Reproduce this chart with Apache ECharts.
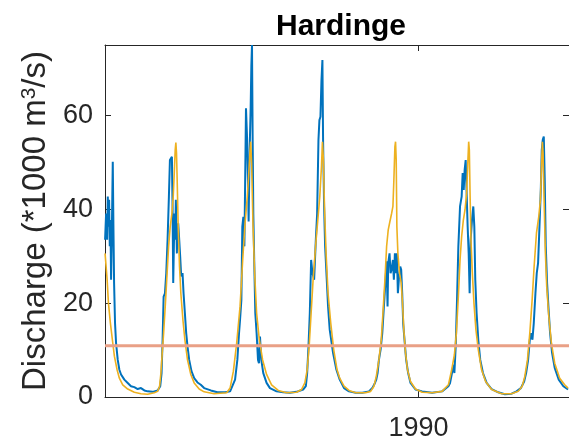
<!DOCTYPE html>
<html>
<head>
<meta charset="utf-8">
<script src="https://cdn.jsdelivr.net/npm/echarts@6/dist/echarts.min.js"></script>
<style>
  html, body { margin: 0; padding: 0; background: #ffffff; }
  #chart { width: 569px; height: 446px; }
</style>
</head>
<body>
<div id="chart"></div>
<script>
// Observed discharge at Hardinge (decimal year, *1000 m3/s)
const observedYear = [
  1985.723, 1985.737, 1985.751, 1985.760, 1985.769, 1985.778, 1985.787, 1985.796, 1985.805, 1985.814,
  1985.828, 1985.837, 1985.846, 1985.859, 1985.873, 1985.896, 1985.918, 1985.941, 1985.986, 1986.032,
  1986.077, 1986.122, 1986.168, 1986.213, 1986.259, 1986.304, 1986.372, 1986.440, 1986.476, 1986.494,
  1986.508, 1986.522, 1986.540, 1986.558, 1986.576, 1986.594, 1986.608, 1986.621, 1986.635, 1986.644,
  1986.653, 1986.662, 1986.671, 1986.680, 1986.689, 1986.703, 1986.712, 1986.721, 1986.735, 1986.748,
  1986.762, 1986.780, 1986.794, 1986.812, 1986.830, 1986.848, 1986.871, 1986.902, 1986.939, 1986.984,
  1987.029, 1987.075, 1987.166, 1987.256, 1987.361, 1987.429, 1987.451, 1987.497, 1987.528, 1987.551,
  1987.565, 1987.583, 1987.596, 1987.610, 1987.624, 1987.637, 1987.646, 1987.660, 1987.673, 1987.682,
  1987.696, 1987.710, 1987.719, 1987.728, 1987.737, 1987.746, 1987.760, 1987.773, 1987.791, 1987.810,
  1987.823, 1987.837, 1987.855, 1987.882, 1987.927, 1987.973, 1988.063, 1988.154, 1988.245, 1988.336,
  1988.426, 1988.463, 1988.481, 1988.499, 1988.517, 1988.535, 1988.553, 1988.576, 1988.599, 1988.617,
  1988.635, 1988.648, 1988.662, 1988.676, 1988.689, 1988.698, 1988.712, 1988.726, 1988.744, 1988.766,
  1988.789, 1988.834, 1988.880, 1988.925, 1988.984, 1989.052, 1989.143, 1989.234, 1989.324, 1989.370,
  1989.406, 1989.424, 1989.442, 1989.460, 1989.483, 1989.506, 1989.528, 1989.551, 1989.565, 1989.578,
  1989.587, 1989.605, 1989.619, 1989.633, 1989.651, 1989.664, 1989.678, 1989.692, 1989.705, 1989.719,
  1989.732, 1989.751, 1989.764, 1989.778, 1989.791, 1989.809, 1989.832, 1989.859, 1989.891, 1989.959,
  1990.050, 1990.186, 1990.322, 1990.408, 1990.431, 1990.453, 1990.476, 1990.490, 1990.508, 1990.526,
  1990.544, 1990.567, 1990.589, 1990.603, 1990.617, 1990.630, 1990.644, 1990.657, 1990.671, 1990.685,
  1990.698, 1990.712, 1990.730, 1990.748, 1990.762, 1990.775, 1990.793, 1990.816, 1990.843, 1990.880,
  1990.930, 1990.998, 1991.088, 1991.179, 1991.270, 1991.338, 1991.397, 1991.442, 1991.469, 1991.496,
  1991.519, 1991.537, 1991.555, 1991.573, 1991.596, 1991.614, 1991.632, 1991.651, 1991.669, 1991.682,
  1991.696, 1991.710, 1991.723, 1991.737, 1991.755, 1991.773, 1991.796, 1991.823, 1991.859, 1991.914,
  1991.977, 1992.041
];
const observedFlow = [
  33.5, 39.1, 33.5, 42.7, 36.3, 42.0, 32.1, 37.7, 25.0, 33.5,
  50.1, 36.3, 24.3, 15.7, 11.5, 7.9, 5.8, 4.8, 3.7, 3.0,
  2.3, 2.1, 1.7, 1.9, 1.4, 1.2, 1.1, 1.4, 2.3, 5.1,
  12.2, 21.4, 22.1, 26.4, 33.5, 42.7, 50.5, 50.9, 51.2, 40.6,
  24.3, 32.1, 39.1, 33.5, 42.0, 30.6, 36.3, 37.0, 33.5, 29.9,
  25.7, 26.4, 22.1, 17.9, 13.6, 10.8, 7.9, 5.5, 4.0, 3.1,
  2.6, 1.9, 1.4, 1.0, 1.0, 1.2, 1.6, 3.7, 7.9, 13.6,
  16.5, 20.7, 36.3, 38.4, 32.1, 49.1, 61.5, 55.5, 46.2, 37.4,
  52.6, 61.8, 70.4, 75.0, 54.8, 39.1, 27.8, 17.9, 13.6, 7.9,
  7.2, 12.9, 7.9, 5.1, 3.0, 1.9, 1.2, 1.0, 0.9, 1.1,
  1.6, 2.3, 5.1, 10.8, 17.9, 29.2, 26.4, 25.0, 33.5, 39.1,
  54.8, 59.0, 59.7, 67.5, 71.8, 54.8, 40.6, 32.1, 26.4, 19.3,
  14.3, 9.4, 5.8, 3.7, 1.9, 1.2, 0.9, 0.9, 1.2, 1.9,
  3.0, 3.7, 5.1, 7.9, 10.1, 13.6, 19.3, 25.0, 28.9, 19.3,
  28.5, 30.6, 26.4, 27.1, 29.2, 25.0, 30.6, 26.4, 30.6, 22.1,
  25.0, 27.8, 27.1, 22.1, 15.7, 12.2, 7.9, 5.1, 3.0, 1.6,
  1.2, 0.9, 1.2, 2.3, 3.0, 4.8, 6.9, 5.1, 10.8, 20.7,
  32.1, 40.6, 42.7, 47.7, 44.1, 48.4, 50.5, 50.5, 36.3, 30.6,
  22.1, 33.5, 37.7, 40.6, 36.3, 25.0, 17.9, 12.2, 7.9, 5.1,
  3.0, 1.7, 1.0, 0.6, 0.7, 1.2, 1.9, 3.3, 5.1, 7.9,
  12.2, 13.6, 12.2, 15.7, 22.1, 26.4, 28.5, 36.3, 44.1, 52.6,
  54.8, 55.5, 46.2, 32.1, 24.3, 19.3, 13.6, 9.4, 6.2, 3.7,
  2.3, 1.6
];

// Simulated discharge (decimal year, *1000 m3/s)
const simulatedYear = [
  1985.723, 1985.751, 1985.769, 1985.796, 1985.828, 1985.850, 1985.887, 1985.918, 1985.964, 1986.032,
  1986.122, 1986.213, 1986.304, 1986.395, 1986.440, 1986.467, 1986.485, 1986.503, 1986.522, 1986.544,
  1986.567, 1986.590, 1986.612, 1986.635, 1986.653, 1986.667, 1986.680, 1986.689, 1986.698, 1986.707,
  1986.721, 1986.739, 1986.757, 1986.785, 1986.812, 1986.848, 1986.893, 1986.939, 1987.007, 1987.075,
  1987.211, 1987.383, 1987.429, 1987.474, 1987.519, 1987.565, 1987.601, 1987.633, 1987.664, 1987.682,
  1987.701, 1987.710, 1987.723, 1987.741, 1987.764, 1987.791, 1987.828, 1987.873, 1987.927, 1987.995,
  1988.086, 1988.200, 1988.336, 1988.404, 1988.449, 1988.481, 1988.508, 1988.535, 1988.562, 1988.599,
  1988.630, 1988.653, 1988.676, 1988.689, 1988.703, 1988.717, 1988.739, 1988.766, 1988.803, 1988.843,
  1988.889, 1988.925, 1988.984, 1989.052, 1989.143, 1989.279, 1989.347, 1989.392, 1989.424, 1989.460,
  1989.492, 1989.515, 1989.542, 1989.565, 1989.587, 1989.610, 1989.633, 1989.651, 1989.664, 1989.678,
  1989.687, 1989.696, 1989.705, 1989.719, 1989.741, 1989.764, 1989.782, 1989.800, 1989.823, 1989.850,
  1989.891, 1989.959, 1990.050, 1990.186, 1990.322, 1990.408, 1990.453, 1990.490, 1990.517, 1990.544,
  1990.567, 1990.589, 1990.612, 1990.635, 1990.657, 1990.671, 1990.685, 1990.694, 1990.703, 1990.716,
  1990.735, 1990.757, 1990.784, 1990.816, 1990.861, 1990.916, 1990.998, 1991.134, 1991.270, 1991.361,
  1991.415, 1991.451, 1991.487, 1991.519, 1991.551, 1991.578, 1991.610, 1991.641, 1991.664, 1991.678,
  1991.691, 1991.700, 1991.714, 1991.732, 1991.750, 1991.778, 1991.814, 1991.859, 1991.927, 1991.995,
  1992.041
];
const simulatedFlow = [
  30.6, 25.0, 20.0, 15.7, 11.5, 8.7, 5.8, 4.0, 2.6, 1.7,
  1.0, 0.7, 0.6, 0.9, 1.2, 2.3, 5.1, 9.4, 13.6, 19.3,
  25.7, 32.1, 36.3, 39.1, 42.7, 47.7, 52.6, 54.2, 51.9, 46.2,
  36.3, 27.8, 22.1, 16.5, 12.2, 7.9, 4.8, 3.0, 1.7, 1.1,
  0.7, 0.9, 1.9, 5.5, 11.5, 19.3, 29.2, 37.0, 42.7, 47.0,
  52.6, 54.4, 49.8, 37.0, 26.4, 17.9, 12.2, 7.9, 4.8, 2.6,
  1.4, 0.9, 1.0, 1.6, 3.0, 5.8, 10.8, 17.9, 25.0, 32.8,
  38.4, 42.7, 49.1, 54.4, 50.5, 40.6, 30.6, 22.1, 15.7, 10.1,
  5.8, 4.0, 2.3, 1.4, 0.9, 0.9, 1.2, 2.3, 4.4, 7.9,
  12.2, 17.9, 25.0, 32.1, 35.6, 37.4, 39.1, 40.6, 46.2, 53.3,
  54.4, 50.5, 36.3, 30.6, 26.4, 24.3, 20.0, 14.3, 9.4, 5.8,
  3.3, 1.7, 1.0, 0.9, 1.2, 2.6, 5.8, 9.0, 13.6, 21.4,
  29.2, 34.2, 37.7, 39.9, 43.4, 49.1, 54.4, 52.6, 44.1, 33.5,
  26.4, 20.0, 14.3, 10.1, 5.8, 3.3, 1.6, 0.7, 0.7, 1.2,
  2.3, 4.4, 7.9, 13.6, 20.7, 27.8, 34.9, 38.4, 42.0, 49.1,
  54.4, 51.9, 42.0, 30.6, 23.5, 17.2, 11.5, 7.2, 4.0, 2.6,
  1.9
];

// Flow threshold (*1000 m3/s)
const thresholdFlow = 10.9;

// Axis extents and tick positions
const yearRange = [1985.722, 1992.054];
const flowRange = [0, 75];
const yearTicks = [1990];
const flowTicks = [0, 20, 40, 60];

const FONT = '"Liberation Sans", Arial, Helvetica, sans-serif';
const AXIS_COLOR = '#262626';

const zip = (xs, ys) => xs.map((x, i) => [x, ys[i]]);

const chart = echarts.init(document.getElementById('chart'), null, { renderer: 'canvas' });

const baseX = {
  type: 'value',
  min: yearRange[0],
  max: yearRange[1],
  splitLine: { show: false },
  axisLine: { onZero: false, lineStyle: { color: AXIS_COLOR, width: 1 } },
  axisTick: { inside: true, length: 6, customValues: yearTicks, lineStyle: { color: AXIS_COLOR, width: 1 } }
};
const baseY = {
  type: 'value',
  min: flowRange[0],
  max: flowRange[1],
  splitLine: { show: false },
  axisLine: { onZero: false, lineStyle: { color: AXIS_COLOR, width: 1 } },
  axisTick: { inside: true, length: 6, customValues: flowTicks, lineStyle: { color: AXIS_COLOR, width: 1 } }
};

chart.setOption({
  animation: false,
  backgroundColor: '#ffffff',
  textStyle: { fontFamily: FONT },
  grid: { left: 105, top: 45, width: 465, height: 352, containLabel: false },
  graphic: [{
    type: 'text',
    x: 341,
    y: 27,
    style: {
      text: 'Hardinge',
      textAlign: 'center',
      textVerticalAlign: 'middle',
      font: 'bold 30px ' + FONT,
      fill: '#000000'
    }
  }],
  xAxis: [
    Object.assign({}, baseX, {
      position: 'bottom',
      axisLabel: {
        customValues: yearTicks,
        formatter: v => String(Math.round(v)),
        fontSize: 27,
        color: AXIS_COLOR,
        fontFamily: FONT,
        margin: 18
      }
    }),
    Object.assign({}, baseX, { position: 'top', axisLabel: { show: false } })
  ],
  yAxis: [
    Object.assign({}, baseY, {
      position: 'left',
      axisLabel: {
        customValues: flowTicks,
        fontSize: 27,
        color: AXIS_COLOR,
        fontFamily: FONT,
        margin: 12
      },
      name: 'Discharge (*1000 m{sup|3}/s)',
      nameLocation: 'middle',
      nameRotate: 90,
      nameGap: 41,
      nameTextStyle: {
        fontSize: 33,
        color: AXIS_COLOR,
        fontFamily: FONT,
        rich: {
          sup: { fontSize: 21, color: AXIS_COLOR, fontFamily: FONT, verticalAlign: 'top' }
        }
      }
    }),
    Object.assign({}, baseY, { position: 'right', axisLabel: { show: false } })
  ],
  series: [
    {
      name: 'Observed',
      type: 'line',
      data: zip(observedYear, observedFlow),
      showSymbol: false,
      lineStyle: { color: '#0072BD', width: 2 },
      itemStyle: { color: '#0072BD' },
      z: 2
    },
    {
      name: 'Simulated',
      type: 'line',
      data: zip(simulatedYear, simulatedFlow),
      showSymbol: false,
      lineStyle: { color: '#EDB120', width: 1.6 },
      itemStyle: { color: '#EDB120' },
      z: 3
    },
    {
      name: 'Threshold',
      type: 'line',
      data: [[yearRange[0], thresholdFlow], [yearRange[1], thresholdFlow]],
      showSymbol: false,
      lineStyle: { color: '#E9A086', width: 3 },
      itemStyle: { color: '#E9A086' },
      z: 4
    }
  ]
});
</script>
</body>
</html>
